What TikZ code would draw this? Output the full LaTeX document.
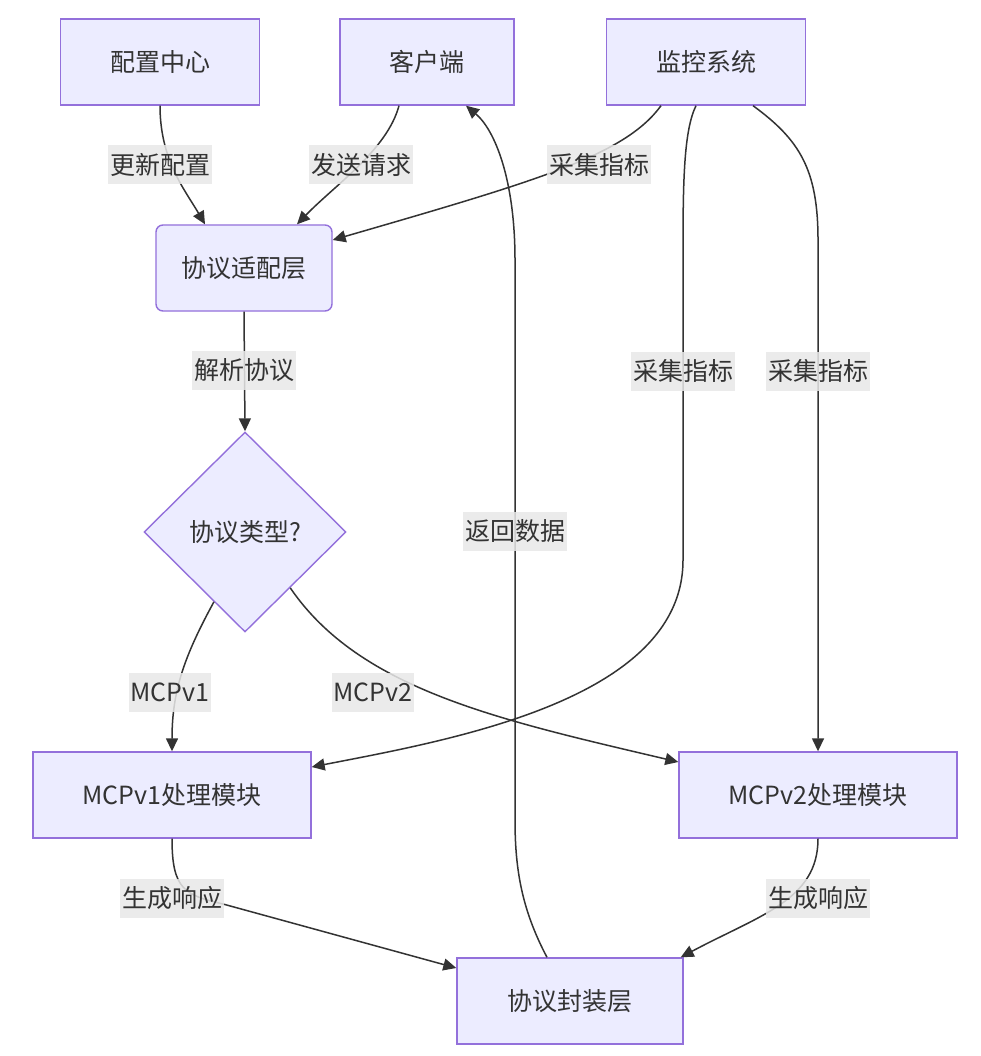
\documentclass[tikz,border=0pt]{standalone}
\usepackage{fontspec}
\setmainfont{Noto Sans CJK SC}
\usetikzlibrary{shapes.geometric,arrows.meta}
\definecolor{boxfill}{HTML}{ECECFF}
\definecolor{boxline}{HTML}{9370DB}
\definecolor{txtgray}{HTML}{333333}
\definecolor{lblgray}{HTML}{E8E8E8}
\tikzset{
  box/.style={draw=boxline, fill=boxfill, line width=1.4pt, text=txtgray,
    minimum height=86pt, inner sep=0pt, font=\fontsize{25}{30}\selectfont},
  lbl/.style={fill=lblgray, fill opacity=0.85, text opacity=1, text=txtgray,
    minimum height=39pt, inner xsep=2pt, inner ysep=0pt, font=\fontsize{25}{30}\selectfont},
  edge/.style={draw=txtgray, line width=1.5pt, -{Triangle[length=13pt,width=12pt]}}
}

\begin{document}
\begin{tikzpicture}[x=1pt, y=-1pt]
\fill[white] (0,0) rectangle (980,1056);
\node[box, minimum width=199pt] (cfg) at (160,62) {配置中心};
\node[box, minimum width=174pt] (client) at (427,62) {客户端};
\node[box, minimum width=199pt] (mon) at (706,62) {监控系统};
\node[box, minimum width=176pt, rounded corners=7pt] (adapter) at (244,268) {协议适配层};
\node[box, diamond, aspect=1, minimum width=202pt, minimum height=200pt] (type) at (245,532) {协议类型?};
\node[box, minimum width=278pt] (v1) at (172,795) {MCPv1处理模块};
\node[box, minimum width=278pt] (v2) at (818,795) {MCPv2处理模块};
\node[box, minimum width=226pt] (pack) at (570,1001) {协议封装层};

\draw[edge] (cfg.south) .. controls (160,160) and (185,190) .. ([xshift=-39pt]adapter.north);
\draw[edge] ([xshift=-28pt]client.south) .. controls (387,150) and (335,185) .. ([xshift=53pt]adapter.north);
\draw[edge] ([xshift=-45pt]mon.south) .. controls (625,155) and (540,180) .. ([yshift=28pt]adapter.east);
\draw[edge] ([xshift=-10pt]mon.south) .. controls (684,130) and (683,180) .. (683,250)
  -- (683,560) .. controls (683,700) and (450,740) .. ([yshift=28pt]v1.east);
\draw[edge] ([xshift=47pt]mon.south) .. controls (800,140) and (818,170) .. (818,240) -- (v2.north);
\draw[edge] (adapter.south) -- (type.north);
\draw[edge] (type.-114) .. controls (185,655) and (172,690) .. (v1.north);
\draw[edge] (type.-51) .. controls (360,690) and (500,720) .. ([yshift=33pt]v2.west);
\draw[edge] (v1.south) .. controls (172,890) and (185,895) .. (223,904) -- ([yshift=33pt]pack.west);
\draw[edge] (v2.south) .. controls (818,900) and (760,915) .. ([xshift=-3pt]pack.north east);
\draw[edge] ([xshift=-23pt]pack.north) .. controls (522,910) and (515,870) .. (515,820)
  -- (515,260) .. controls (515,180) and (495,130) .. ([xshift=39pt]client.south);

\node[lbl] (l1) at (160,165) {更新配置};
\node[lbl] (l2) at (361,165) {发送请求};
\node[lbl] (l3) at (599,165) {采集指标};
\node[lbl] (l4) at (244,370) {解析协议};
\node[lbl] (l5) at (683,371) {采集指标};
\node[lbl] (l6) at (818,371) {采集指标};
\node[lbl] (l7) at (515,531) {返回数据};
\node[lbl] (l8) at (170,692) {MCPv1};
\node[lbl] (l9) at (373,692) {MCPv2};
\node[lbl] (l10) at (172,898) {生成响应};
\node[lbl] (l11) at (818,898) {生成响应};
\end{tikzpicture}
\end{document}
